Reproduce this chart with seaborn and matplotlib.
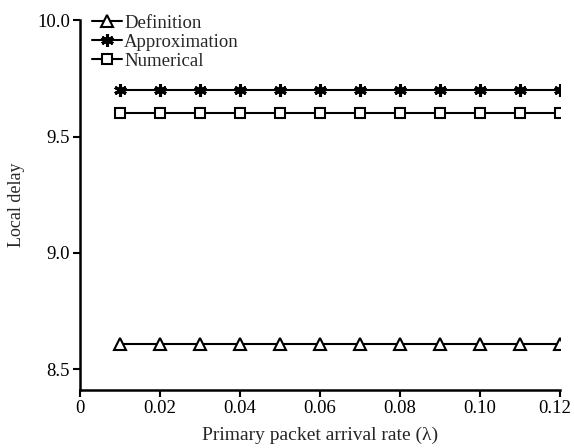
import numpy as np
import pandas as pd
import seaborn as sns
import matplotlib.pyplot as plt
import matplotlib.transforms as mtransforms

# arrival rates and delays
rate = [0.01, 0.02, 0.03, 0.04, 0.05, 0.06, 0.07, 0.08, 0.09, 0.10, 0.11, 0.12]
definition = [8.61] * 12
approximation = [9.70] * 12
numerical = [9.60] * 12
xticks = [0, 0.02, 0.04, 0.06, 0.08, 0.10, 0.12]
xlabels = ['0', '0.02', '0.04', '0.06', '0.08', '0.10', '0.12']
yticks = [8.5, 9.0, 9.5, 10.0]

sns.set_style('ticks')
plt.rcParams['font.family'] = ['Liberation Serif', 'DejaVu Serif']

fig = plt.figure(figsize=(5.74, 4.48), dpi=100)
ax = fig.add_axes([0.139, 0.129, 0.837, 0.826])

df = pd.DataFrame({'rate': rate, 'Definition': definition,
                   'Approximation': approximation, 'Numerical': numerical})

sns.lineplot(data=df, x='rate', y='Definition', ax=ax, color='black', lw=1.5,
             marker='^', markersize=8, markerfacecolor='white',
             markeredgecolor='black', markeredgewidth=1.5, label='Definition')
sns.lineplot(data=df, x='rate', y='Approximation', ax=ax, color='black', lw=1.5,
             marker=(6, 2, 0), markersize=9, markeredgecolor='black',
             markeredgewidth=2.2, label='Approximation')
sns.lineplot(data=df, x='rate', y='Numerical', ax=ax, color='black', lw=1.5,
             marker='s', markersize=7, markerfacecolor='white',
             markeredgecolor='black', markeredgewidth=1.5, label='Numerical')

ax.set_xlim(0, 0.12)
ax.set_ylim(8.41, 10.0)
ax.set_xticks(xticks)
ax.set_xticklabels(xlabels)
ax.set_yticks(yticks)
ax.set_yticklabels(['8.5', '9.0', '9.5', '10.0'])
ax.tick_params(direction='out', length=5, width=1.5, labelsize=13.5, colors='black', pad=2)
for s in ['left', 'bottom']:
    ax.spines[s].set_linewidth(1.8)
    ax.spines[s].set_color('black')
sns.despine(ax=ax)

# nudge the last x label inward so it stays on the canvas
last = ax.get_xticklabels()[-1]
last.set_transform(last.get_transform() +
                   mtransforms.ScaledTranslation(-6 / 100, 0, fig.dpi_scale_trans))

ax.set_xlabel('Primary packet arrival rate (λ)', fontsize=14, labelpad=7)
ax.set_ylabel('Local delay', fontsize=13, labelpad=9)

leg = ax.legend(loc='upper left', frameon=False, fontsize=13.5, handlelength=1.6,
                handletextpad=0.1, labelspacing=0.1, borderaxespad=0.0,
                bbox_to_anchor=(0.01, 1.035))

fig.savefig('out.png', dpi=100)
